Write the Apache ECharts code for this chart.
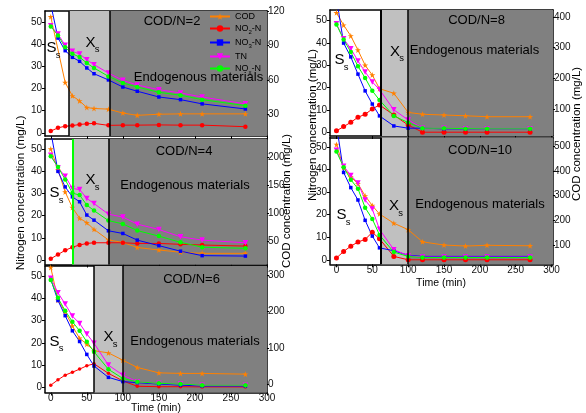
<!DOCTYPE html>
<html>
<head>
<meta charset="utf-8">
<script src="https://cdn.jsdelivr.net/npm/echarts@6.0.0/dist/echarts.min.js"></script>
<style>
  html, body { margin: 0; padding: 0; background: #fff; }
  #chart { width: 586px; height: 413px; }
</style>
</head>
<body>
<div id="chart"></div>
<script>
// Sampling times (min)
const TIME = [0, 10, 20, 30, 40, 50, 60, 80, 100, 120, 150, 180, 210, 270];

// COD/N = 2
const COD_2  = [115, null, 57.6, 46, 41.6, 35.8, 35, 34.4, 31, 29, 30, 30.3, 30.3, 30.3];
const NO2_2  = [0.8, 2.3, 3.0, 3.3, 3.8, 4.1, 4.3, 3.4, 3.5, 3.5, 3.6, 3.5, 3.5, 2.8];
const NO3_2  = [58, 42.8, 37.1, 34.1, 32.3, 29.3, 26.7, 23.9, 20.7, 18.8, 16.2, 15.0, 13.1, 10.8];
const TN_2   = [48.3, 44.6, 39.5, 36.8, 35.6, 33.0, 30.8, 27.0, 23.7, 21.6, 19.5, 18.0, 16.2, 13.1];
const NOX_2  = [48.0, 44.0, 38.6, 35.7, 34.2, 31.5, 29.3, 25.5, 22.5, 20.7, 18.3, 17.0, 15.0, 12.3];

// COD/N = 4
const COD_4  = [215, 178, 138, 110, 91, 83, 71, 52, 47.5, 38.5, 34, 30, 28, 28];
const NO2_4  = [0.6, 2.5, 4.4, 5.8, 6.8, 7.5, 7.8, 7.8, 7.8, 7.5, 7.5, 7.1, 6.8, 6.3];
const NO3_4  = [58, 40, 33, 28.5, 26.3, 20.3, 18, 13.2, 12, 9, 6.5, 4, 2, 1.8];
const TN_4   = [47.3, 41.6, 37.8, 32.3, 31.8, 27.8, 25.5, 20.7, 19.4, 16.2, 13.8, 10.5, 9, 7.8];
const NOX_4  = [46.8, 42, 36.3, 30.2, 29.3, 24.8, 22.3, 17.8, 16.3, 13.3, 10.8, 8, 5.8, 5.3];

// COD/N = 6
const COD_6  = [321, 231, 199, 160, 126, 110, 92, 86, 66, 46, 31, 29.5, 29.5, 27.5];
const NO2_6  = [1.0, 3.4, 5.5, 6.8, 8.2, 9.7, 10.6, 6.3, 2.9, 0.5, 0.3, 0.3, 0.2, 0.2];
const NO3_6  = [48.5, 39, 32.2, 25.4, 20.6, 14.8, 9.6, 4.5, 2.6, 2.1, 1.5, 1.0, 0.6, 0.6];
const TN_6   = [49, 42.5, 37.4, 32, 28.7, 24, 19.8, 10, 5.5, 2.5, 1.8, 1.5, 1.0, 1.0];
const NOX_6  = [48.2, 40.2, 34.4, 29.5, 25.4, 20.5, 16, 8.1, 4.0, 2.5, 1.8, 1.5, 1.0, 1.0];

// COD/N = 8
const COD_8  = [413, 373, 338, 292, 243, 211, 167, 152, 90, 84, 81.5, 79, 76, 76];
const NO2_8  = [0.6, 2.5, 4.4, 6.7, 8.0, 10.4, 12.2, 7.7, 3.2, 0, 0, 0, 0, 0];
const NO3_8  = [60, 39.9, 33.7, 26, 18.5, 12.6, 7.3, 2.8, 1.8, 1.8, 1.5, 1.5, 1.5, 1.5];
const TN_8   = [48.5, 41.8, 37.4, 31.9, 27, 22.5, 19.1, 10, 5.5, 1.8, 1.8, 1.6, 1.5, 1.5];
const NOX_8  = [48.2, 41.5, 35.9, 29.5, 24.3, 18.5, 14.4, 7.3, 4.3, 1.8, 1.8, 1.6, 1.5, 1.5];

// COD/N = 10
const COD_10 = [506, 413, 375, 348, 299, 260, 226, 189, 163, 114, 101, 97, 100, 98];
const NO2_10 = [0.8, 3.7, 6.0, 7.9, 9.0, 12.2, 9.3, 1.5, 0, 0, 0, 0, 0, 0];
const NO3_10 = [60, 38.7, 32, 26.5, 17.5, 10.5, 5.3, 4, 2, 1.5, 1.5, 1.5, 1.5, 1.5];
const TN_10  = [48.5, 41.5, 37.4, 34, 26.5, 22.5, 13.5, 4.5, 1.8, 1.2, 1.2, 1.2, 1.2, 1.2];
const NOX_10 = [48, 41, 35.5, 31.5, 23.1, 18.1, 11, 3.4, 1.5, 1.0, 1.0, 1.0, 1.0, 1.0];

// Phase boundaries (min): end of S_s phase, end of X_s phase
const PHASES = [[25, 82], [30, 80], [60, 100], [62, 100], [62, 100]];

const PANEL_TITLES = ['COD/N=2', 'COD/N=4', 'COD/N=6', 'COD/N=8', 'COD/N=10'];
const SERIES_NAMES = ['COD', 'NO2-N', 'NO3-N', 'TN', 'NOx-N'];

// Tick labels
const X_TICKS = [0, 50, 100, 150, 200, 250, 300];
const N_TICKS = [0, 10, 20, 30, 40, 50];
const COD_TICKS = [
  [30, 60, 90, 120],
  [50, 100, 150, 200],
  [0, 100, 200, 300],
  [100, 200, 300, 400],
  [100, 200, 300, 400, 500]
];

const FONT = 'Arial, "Liberation Sans", Helvetica, sans-serif';
const STAR = 'path://M50,2 L61,36 L97,36 L68,57 L79,92 L50,70 L21,92 L32,57 L3,36 L39,36 Z';

const SERIES_STYLE = {
  'COD':   { color: '#ff8000', symbol: STAR, size: 6, rotate: 0 },
  'NO2-N': { color: '#ff0000', symbol: 'circle', size: 4.5, rotate: 0 },
  'NO3-N': { color: '#0000ff', symbol: 'rect', size: 3.5, rotate: 0 },
  'TN':    { color: '#ff00ff', symbol: 'triangle', size: 5.5, rotate: 180 },
  'NOx-N': { color: '#00ff00', symbol: 'circle', size: 4.5, rotate: 0 }
};

// Panel layout
const PANELS = [
  { data: { 'COD': COD_2,  'NO2-N': NO2_2,  'NO3-N': NO3_2,  'TN': TN_2,  'NOx-N': NOX_2 },
    grid: { left: 45, top: 11, width: 222, height: 125 },
    x: [-8, 300], n: [-1.4, 55], cod: [11, 120], showX: false, firstLine: ['#000', 1.5], redSize: 4.5 },
  { data: { 'COD': COD_4,  'NO2-N': NO2_4,  'NO3-N': NO3_4,  'TN': TN_4,  'NOx-N': NOX_4 },
    grid: { left: 45, top: 139, width: 222, height: 125.5 },
    x: [-8, 300], n: [-2, 54.6], cod: [8, 233], showX: false, firstLine: ['#00ff00', 2], redSize: 4.5 },
  { data: { 'COD': COD_6,  'NO2-N': NO2_6,  'NO3-N': NO3_6,  'TN': TN_6,  'NOx-N': NOX_6 },
    grid: { left: 45, top: 266, width: 222, height: 126.5 },
    x: [-8, 300], n: [-2.3, 54.5], cod: [-23, 325], showX: true, firstLine: ['#000', 1.5], redSize: 3.5 },
  { data: { 'COD': COD_8,  'NO2-N': NO2_8,  'NO3-N': NO3_8,  'TN': TN_8,  'NOx-N': NOX_8 },
    grid: { left: 330, top: 10, width: 223, height: 126 },
    x: [-9, 302], n: [-1.7, 54.7], cod: [13.5, 422], showX: false, firstLine: ['#000', 2], redSize: 5 },
  { data: { 'COD': COD_10, 'NO2-N': NO2_10, 'NO3-N': NO3_10, 'TN': TN_10, 'NOx-N': NOX_10 },
    grid: { left: 330, top: 137.5, width: 223, height: 126.8 },
    x: [-9, 302], n: [-2, 54.2], cod: [23.5, 534], showX: true, firstLine: ['#000', 2], redSize: 5 }
];

// Text annotations per panel: S_s, X_s, title, endogenous label
const NOTES = [
  { S: [51.5, 48], X: [90.5, 42.7], title: [172, 21], endo: [198.5, 77] },
  { S: [54.5, 193], X: [90.5, 180], title: [184, 151], endo: [185, 185] },
  { S: [54.5, 341.5], X: [108.5, 337], title: [191.5, 279], endo: [195, 341.5] },
  { S: [339.5, 60], X: [395, 51.7], title: [476.5, 20], endo: [474.5, 50] },
  { S: [341.5, 215], X: [394, 206], title: [480, 150], endo: [480, 204] }
];

const grid = [], xAxis = [], yAxis = [], series = [], graphic = [];

const axisLineStyle = { color: '#000', width: 1.5 };
const labelStyle = { fontSize: 10, color: '#111', fontFamily: FONT };

PANELS.forEach((p, i) => {
  grid.push(Object.assign({ show: false, containLabel: false }, p.grid));

  xAxis.push({
    type: 'value', gridIndex: i, min: p.x[0], max: p.x[1], position: 'bottom',
    axisLine: { show: true, onZero: false, lineStyle: axisLineStyle },
    axisTick: { show: true, inside: false, length: 3, customValues: X_TICKS, lineStyle: { color: '#000' } },
    axisLabel: Object.assign({ show: p.showX, customValues: X_TICKS, margin: 1 }, labelStyle),
    splitLine: { show: false }
  });
  xAxis.push({
    type: 'value', gridIndex: i, min: p.x[0], max: p.x[1], position: 'top',
    axisLine: { show: true, onZero: false, lineStyle: axisLineStyle },
    axisTick: { show: false }, axisLabel: { show: false }, splitLine: { show: false }
  });
  yAxis.push({
    type: 'value', gridIndex: i, min: p.n[0], max: p.n[1], position: 'left',
    axisLine: { show: true, onZero: false, lineStyle: axisLineStyle },
    axisTick: { show: true, inside: false, length: 3, customValues: N_TICKS, lineStyle: { color: '#000' } },
    axisLabel: Object.assign({ customValues: N_TICKS, margin: 3 }, labelStyle),
    splitLine: { show: false }
  });
  yAxis.push({
    type: 'value', gridIndex: i, min: p.cod[0], max: p.cod[1], position: 'right',
    axisLine: { show: true, onZero: false, lineStyle: axisLineStyle },
    axisTick: { show: true, inside: false, length: 2, customValues: COD_TICKS[i], lineStyle: { color: '#000' } },
    axisLabel: Object.assign({ customValues: COD_TICKS[i], margin: 1 }, labelStyle),
    splitLine: { show: false }
  });

  SERIES_NAMES.forEach((name) => {
    const st = SERIES_STYLE[name];
    const values = p.data[name];
    const s = {
      type: 'line',
      name: name,
      xAxisIndex: 2 * i,
      yAxisIndex: name === 'COD' ? 2 * i + 1 : 2 * i,
      data: TIME.map((t, k) => [t, values[k]]).filter(d => d[1] !== null),
      symbol: st.symbol,
      symbolSize: name === 'NO2-N' ? p.redSize : st.size,
      symbolRotate: st.rotate,
      showAllSymbol: true,
      lineStyle: { color: st.color, width: 1 },
      itemStyle: { color: st.color },
      clip: true,
      z: 3
    };
    if (name === 'NO2-N') {
      const ph = PHASES[i];
      s.markArea = {
        silent: true,
        data: [
          [{ xAxis: ph[0], itemStyle: { color: '#c0c0c0' } }, { xAxis: ph[1] }],
          [{ xAxis: ph[1], itemStyle: { color: '#808080' } }, { xAxis: p.x[1] }]
        ]
      };
      s.markLine = {
        silent: true,
        symbol: ['none', 'none'],
        label: { show: false },
        lineStyle: { type: 'solid' },
        data: [
          { xAxis: ph[0], lineStyle: { color: p.firstLine[0], width: p.firstLine[1], type: 'solid' } },
          { xAxis: ph[1], lineStyle: { color: '#000', width: 1.5, type: 'solid' } }
        ]
      };
    }
    series.push(s);
  });

  const nt = NOTES[i];
  const txt = (x, y, text, size) => ({
    type: 'text', x: x, y: y, z: 50,
    style: { text: text, fontSize: size, fontFamily: FONT, fill: '#000',
             align: 'center', verticalAlign: 'middle', textAlign: 'center', textVerticalAlign: 'middle' }
  });
  graphic.push(txt(nt.S[0], nt.S[1], 'S', 15));
  graphic.push(txt(nt.S[0] + 6.5, nt.S[1] + 7, 's', 9.5));
  graphic.push(txt(nt.X[0], nt.X[1], 'X', 15));
  graphic.push(txt(nt.X[0] + 6.5, nt.X[1] + 7, 's', 9.5));
  graphic.push(txt(nt.title[0], nt.title[1], PANEL_TITLES[i], 13));
  graphic.push(txt(nt.endo[0], nt.endo[1], 'Endogenous materials', 13));
});

// Axis titles
const axTitle = (x, y, text, size, rot) => ({
  type: 'text', x: x, y: y, rotation: rot, z: 50,
  style: { text: text, fontSize: size, fontFamily: FONT, fill: '#000',
           align: 'center', verticalAlign: 'middle', textAlign: 'center', textVerticalAlign: 'middle' }
});
graphic.push(axTitle(21, 193, 'Nitrogen concentration (mg/L)', 11.7, Math.PI / 2));
graphic.push(axTitle(287, 201, 'COD concentration (mg/L)', 11.5, Math.PI / 2));
graphic.push(axTitle(313, 125, 'Nitrogen concentration (mg/L)', 11.5, Math.PI / 2));
graphic.push(axTitle(577, 134, 'COD concentration (mg/L)', 11.5, Math.PI / 2));
graphic.push(axTitle(156, 408, 'Time (min)', 10.5, 0));
graphic.push(axTitle(441, 283, 'Time (min)', 10.5, 0));

const LEGEND_TEXT = {
  'COD': '{n|COD}',
  'NO2-N': '{n|NO}{s|2}{n|-N}',
  'NO3-N': '{n|NO}{s|3}{n|-N}',
  'TN': '{n|TN}',
  'NOx-N': '{n|NO}{s|x}{n|-N}'
};

const chart = echarts.init(document.getElementById('chart'), null, { renderer: 'canvas', width: 586, height: 413 });
chart.setOption({
  animation: false,
  backgroundColor: '#ffffff',
  grid: grid,
  xAxis: xAxis,
  yAxis: yAxis,
  series: series,
  graphic: graphic,
  legend: {
    data: SERIES_NAMES,
    orient: 'vertical',
    left: 209, top: 12.5,
    padding: 0,
    itemWidth: 20, itemHeight: 8, itemGap: 3,
    selectedMode: false,
    formatter: (name) => LEGEND_TEXT[name],
    textStyle: {
      color: '#000', fontFamily: FONT, fontSize: 9,
      rich: {
        n: { fontSize: 9, fontFamily: FONT, color: '#000', lineHeight: 10, verticalAlign: 'bottom' },
        s: { fontSize: 6, fontFamily: FONT, color: '#000', lineHeight: 6, verticalAlign: 'bottom', padding: [0, 0, -2, 0] }
      }
    }
  }
});
</script>
</body>
</html>
